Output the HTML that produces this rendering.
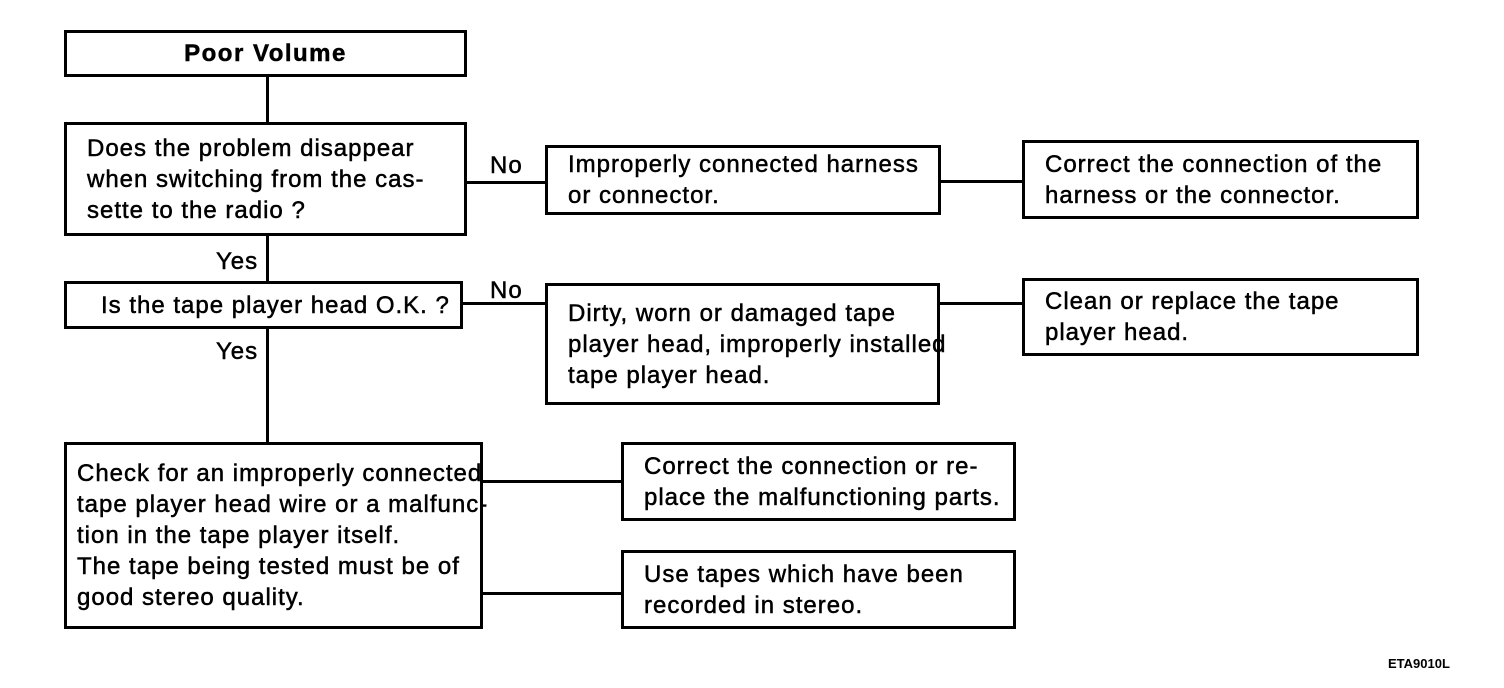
<!DOCTYPE html>
<html><head><style>
body{margin:0;width:1504px;height:688px;background:#fff;position:relative;overflow:hidden;font-family:"Liberation Sans",Arial,sans-serif;color:#000}
.b{position:absolute;border:3px solid #000;box-sizing:border-box;font-size:24px;letter-spacing:1px;line-height:31px;padding:0 0 0 20px;display:flex;flex-direction:column;justify-content:center;-webkit-text-stroke:0.5px #000;white-space:nowrap}
.h{position:absolute;height:3px;background:#000}
.v{position:absolute;width:3px;background:#000}
.t{position:absolute;font-size:24px;letter-spacing:1px;-webkit-text-stroke:0.5px #000}
</style></head><body>
<div class="b" style="left:64px;top:30px;width:403px;height:47px;align-items:center;padding:0;font-weight:bold;letter-spacing:1.5px">Poor Volume</div>
<div class="v" style="left:266px;top:76px;height:47px"></div>
<div class="b" style="left:64px;top:122px;width:403px;height:114px">Does the problem disappear<br>when switching from the cas-<br>sette to the radio ?</div>
<div class="h" style="left:466px;top:181px;width:80px"></div>
<div class="t" style="left:490px;top:152px">No</div>
<div class="b" style="left:545px;top:145px;width:396px;height:70px">Improperly connected harness<br>or connector.</div>
<div class="h" style="left:940px;top:180px;width:83px"></div>
<div class="b" style="left:1022px;top:140px;width:397px;height:79px">Correct the connection of the<br>harness or the connector.</div>
<div class="v" style="left:266px;top:235px;height:47px"></div>
<div class="t" style="left:216px;top:248px">Yes</div>
<div class="b" style="left:64px;top:281px;width:399px;height:48px;padding-left:34px">Is the tape player head O.K. ?</div>
<div class="h" style="left:462px;top:302px;width:84px"></div>
<div class="t" style="left:490px;top:277px">No</div>
<div class="b" style="left:545px;top:283px;width:395px;height:122px">Dirty, worn or damaged tape<br>player head, improperly installed<br>tape player head.</div>
<div class="h" style="left:939px;top:302px;width:84px"></div>
<div class="b" style="left:1022px;top:278px;width:397px;height:78px">Clean or replace the tape<br>player head.</div>
<div class="v" style="left:266px;top:328px;height:115px"></div>
<div class="t" style="left:216px;top:338px">Yes</div>
<div class="b" style="left:64px;top:442px;width:419px;height:187px;padding-left:10px">Check for an improperly connected<br>tape player head wire or a malfunc-<br>tion in the tape player itself.<br>The tape being tested must be of<br>good stereo quality.</div>
<div class="h" style="left:482px;top:480px;width:141px"></div>
<div class="b" style="left:621px;top:442px;width:395px;height:79px">Correct the connection or re-<br>place the malfunctioning parts.</div>
<div class="h" style="left:482px;top:592px;width:141px"></div>
<div class="b" style="left:621px;top:550px;width:395px;height:79px">Use tapes which have been<br>recorded in stereo.</div>
<div class="t" style="left:1388px;top:656px;font-size:13px;letter-spacing:0;font-weight:bold;-webkit-text-stroke:0">ETA9010L</div>
</body></html>
